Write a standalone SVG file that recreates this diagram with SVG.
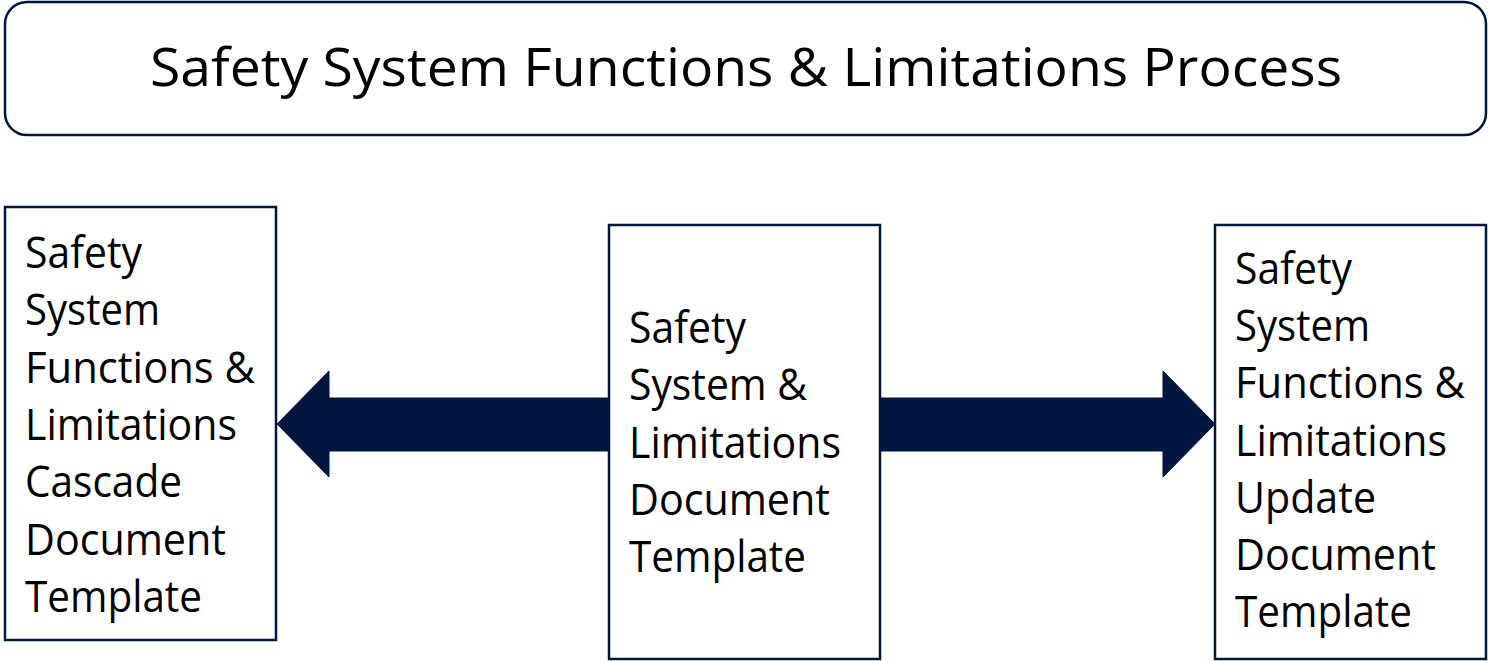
<svg xmlns="http://www.w3.org/2000/svg" width="1488" height="661" viewBox="0 0 1488 661">
<style>
.box{fill:#ffffff;stroke:#001540;stroke-width:2.5}
.t{font-family:"Open Sans","Liberation Sans",sans-serif;font-size:43px;fill:#000000}
.title{font-family:"Open Sans","Liberation Sans",sans-serif;font-size:53px;fill:#000000}
.arrow{fill:#001540;stroke:#001540;stroke-width:1}
</style>
<rect width="1488" height="661" fill="#ffffff"/>
<g id="title">
<rect class="box" x="5" y="2" width="1481" height="133" rx="22" ry="22"/>
<text class="title" x="150" y="86" textLength="1192" lengthAdjust="spacingAndGlyphs">Safety System Functions &amp; Limitations Process</text>
</g>
<g id="connectors">
<polygon class="arrow" points="609,398 329,398 329,371 277,424 329,477 329,451 609,451"/>
<polygon class="arrow" points="881,398 1163,398 1163,371 1215,424 1163,477 1163,451 881,451"/>
</g>
<g id="cascade">
<rect class="box" x="5" y="207" width="271" height="433"/>
<text class="t" x="25" y="268" textLength="117" lengthAdjust="spacingAndGlyphs">Safety</text>
<text class="t" x="25" y="325" textLength="135" lengthAdjust="spacingAndGlyphs">System</text>
<text class="t" x="25" y="383" textLength="230" lengthAdjust="spacingAndGlyphs">Functions &amp;</text>
<text class="t" x="25" y="440" textLength="212" lengthAdjust="spacingAndGlyphs">Limitations</text>
<text class="t" x="25" y="497" textLength="157" lengthAdjust="spacingAndGlyphs">Cascade</text>
<text class="t" x="25" y="555" textLength="201" lengthAdjust="spacingAndGlyphs">Document</text>
<text class="t" x="25" y="612" textLength="177" lengthAdjust="spacingAndGlyphs">Template</text>
</g>
<g id="center">
<rect class="box" x="609" y="225" width="271" height="434"/>
<text class="t" x="629" y="343" textLength="117" lengthAdjust="spacingAndGlyphs">Safety</text>
<text class="t" x="629" y="400" textLength="178" lengthAdjust="spacingAndGlyphs">System &amp;</text>
<text class="t" x="629" y="458" textLength="212" lengthAdjust="spacingAndGlyphs">Limitations</text>
<text class="t" x="629" y="515" textLength="201" lengthAdjust="spacingAndGlyphs">Document</text>
<text class="t" x="629" y="572" textLength="177" lengthAdjust="spacingAndGlyphs">Template</text>
</g>
<g id="update">
<rect class="box" x="1215" y="225" width="271" height="434"/>
<text class="t" x="1235" y="284" textLength="117" lengthAdjust="spacingAndGlyphs">Safety</text>
<text class="t" x="1235" y="341" textLength="135" lengthAdjust="spacingAndGlyphs">System</text>
<text class="t" x="1235" y="398" textLength="230" lengthAdjust="spacingAndGlyphs">Functions &amp;</text>
<text class="t" x="1235" y="456" textLength="212" lengthAdjust="spacingAndGlyphs">Limitations</text>
<text class="t" x="1235" y="513" textLength="141" lengthAdjust="spacingAndGlyphs">Update</text>
<text class="t" x="1235" y="570" textLength="201" lengthAdjust="spacingAndGlyphs">Document</text>
<text class="t" x="1235" y="627" textLength="177" lengthAdjust="spacingAndGlyphs">Template</text>
</g>
</svg>
